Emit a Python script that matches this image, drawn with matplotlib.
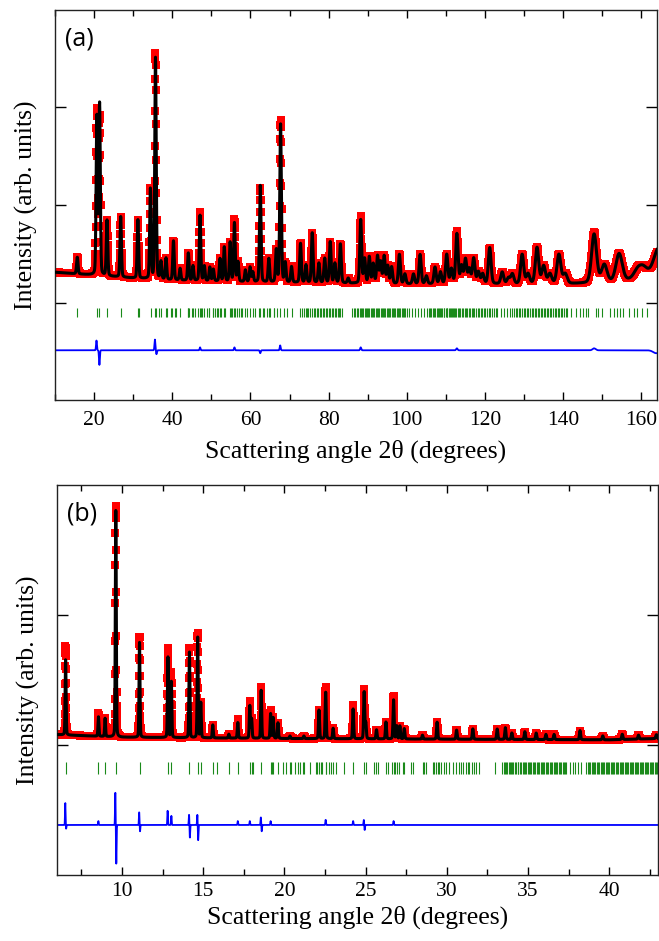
import matplotlib
matplotlib.use('Agg')
import matplotlib.pyplot as plt
from matplotlib.ticker import MultipleLocator
import numpy as np

plt.rcParams['font.family'] = ['Liberation Serif', 'DejaVu Serif']
plt.rcParams['mathtext.fontset'] = 'stix'

# ---------------- panel (a) data ----------------
a_bg_x = [10, 20, 30, 40, 50, 60, 80, 100, 120, 140, 150, 160, 164]
a_bg_y = [1.31, 1.28, 1.25, 1.23, 1.22, 1.21, 1.20, 1.19, 1.19, 1.19, 1.20, 1.24, 1.26]

a_peak_pos = [15.7, 20.7, 21.4, 23.3, 26.8, 31.2, 34.4, 35.7, 37.1, 38.4, 40.3, 42.0, 44.1, 45.3,
              47.1, 48.2, 49.6, 50.5, 52.2, 53.3, 54.8, 55.9, 56.8, 58.7, 59.9, 60.6, 62.5, 64.7,
              66.6, 67.7, 68.9, 70.5, 72.8, 74.2, 75.8, 77.5, 79.0, 80.4, 81.6, 83.0, 85.0, 88.2,
              89.2, 90.4, 91.4, 92.5, 93.3, 94.2, 95.1, 96.1, 98.1, 99.5, 101.7, 103.4, 105.0,
              107.2, 108.6, 110.2, 111.4, 112.8, 114.0, 115.0, 116.0, 117.1, 118.3, 119.4, 121.2,
              124.4, 126.0, 127.0, 129.5, 131.0, 133.3, 135.0, 136.6, 138.9, 140.5, 147.9, 150.5,
              154.3, 159.0, 160.5, 164.5]
a_peak_h = [0.17, 1.62, 1.75, 0.57, 0.62, 0.60, 0.92, 2.27, 0.18, 0.22, 0.40, 0.12, 0.28, 0.15,
            0.67, 0.15, 0.14, 0.12, 0.23, 0.35, 0.40, 0.60, 0.20, 0.12, 0.15, 0.10, 0.99, 0.24,
            0.33, 1.62, 0.20, 0.16, 0.40, 0.18, 0.51, 0.20, 0.25, 0.42, 0.20, 0.40, 0.05, 0.65,
            0.25, 0.27, 0.20, 0.28, 0.22, 0.28, 0.18, 0.17, 0.30, 0.10, 0.10, 0.30, 0.08,
            0.17, 0.12, 0.30, 0.15, 0.51, 0.18, 0.25, 0.15, 0.26, 0.12, 0.10, 0.37,
            0.12, 0.06, 0.10, 0.30, 0.10, 0.37, 0.18, 0.10, 0.30, 0.10, 0.50, 0.18,
            0.28, 0.08, 0.10, 0.30]

# obs - calc features (position, amplitude)
a_res_pos = [20.6, 21.35, 35.55, 35.95, 47.1, 55.9, 62.5, 67.6, 88.2, 112.8, 147.9, 163.8]
a_res_amp = [0.10, -0.15, 0.11, -0.04, 0.03, 0.03, -0.03, 0.05, 0.03, 0.02, 0.02, -0.03]

a_refl = [15.7, 20.7, 21.3, 23.2, 26.8, 31.2, 31.6, 34.5, 35.6, 35.9, 36.7, 37.1, 38.4, 38.6,
          39.7, 39.9, 40.7, 40.9, 42.0, 43.9, 44.1, 44.4, 45.0, 45.4, 45.9, 46.7, 47.1, 47.3,
          47.6, 48.2, 48.8, 49.3, 49.5, 50.3, 50.4, 51.0, 51.4, 51.8, 52.3, 52.5, 53.3, 53.4,
          54.8, 55.1, 55.4, 55.8, 56.1, 56.5, 57.0, 57.6, 57.8, 58.7, 59.1, 59.9, 60.6, 61.2,
          62.1, 62.5, 63.1, 63.4, 64.2, 64.8, 65.1, 65.9, 66.1, 66.8, 67.6, 68.5, 69.3, 70.6,
          72.7, 73.2, 73.6, 74.1, 74.5, 74.8, 75.3, 75.8, 76.2, 76.6, 77.0, 77.3, 77.7, 78.1,
          78.5, 78.9, 79.3, 79.6, 80.0, 80.4, 80.9, 81.2, 81.5, 81.9, 82.3, 82.7, 83.0, 83.4,
          86.0, 86.5, 86.8, 87.3, 87.6, 87.9, 88.2, 88.5, 88.8, 89.2, 89.5, 89.8, 90.1, 90.4,
          90.8, 91.1, 91.4, 91.7, 92.0, 92.3, 92.6, 92.9, 93.3, 93.6, 93.9, 94.2, 94.5, 94.8,
          95.1, 95.5, 95.8, 96.1, 96.4, 96.7, 97.0, 97.4, 97.7, 98.0, 98.3, 98.7, 99.0, 99.3,
          99.6, 100.0, 100.5, 101.3, 102.1, 102.8, 103.6, 104.3,
          105.2, 105.6, 105.9, 106.3, 106.6, 106.9, 107.3, 107.6, 107.9, 108.2, 108.5, 108.8,
          109.1, 109.4, 109.6, 109.9, 110.2, 110.4, 110.7, 111.0, 111.2, 111.5, 111.8, 112.1,
          112.4, 112.7, 113.0, 113.3, 113.7, 114.0, 114.4, 114.8, 115.1, 115.5, 115.9, 116.2,
          116.6, 117.0, 117.3, 117.7, 118.1, 118.5, 118.9, 119.3, 119.7, 120.1, 120.5, 120.9,
          121.4, 121.8, 122.3, 122.7, 123.1, 124.0, 124.9, 125.7,
          126.5, 126.9, 127.3, 127.8, 128.2, 128.6, 129.0, 129.4, 129.9, 130.3, 130.7, 131.1,
          131.5, 131.9, 132.3, 132.7, 133.1, 133.5, 133.9, 134.3, 134.7, 135.0, 135.4, 135.8,
          136.2, 136.6, 137.0, 137.4, 137.8, 138.2, 138.6, 139.0, 139.4, 139.8, 140.2, 140.6,
          141.0, 142.1, 143.2, 144.3, 145.0, 145.9, 146.4, 148.3, 149.0, 150.0, 151.9, 153.0,
          153.8, 154.5, 155.3, 156.8, 158.1, 159.0, 160.2, 161.5, 163.9]

# ---------------- panel (b) data ----------------
b_bg_x = [6, 10, 20, 30, 40, 43]
b_bg_y = [1.08, 1.06, 1.05, 1.045, 1.04, 1.05]

b_peak_pos = [6.53, 8.55, 8.96, 9.62, 11.08, 12.83, 13.04, 14.15, 14.66, 14.85, 15.59, 16.58,
              17.13, 17.87, 17.98, 18.57, 19.15, 19.31, 19.60, 20.34, 21.2, 22.13, 22.54, 23.0,
              24.23, 24.91, 25.01, 25.67, 26.25, 26.72, 26.91, 27.11, 27.38, 28.5, 29.40, 30.6,
              31.6, 33.1, 33.6, 34.0, 34.8, 35.5, 36.1, 36.6, 38.2, 39.6, 40.8, 41.8, 42.9]
b_peak_h = [0.58, 0.15, 0.14, 1.76, 0.73, 0.62, 0.43, 0.66, 0.78, 0.27, 0.10, 0.03,
            0.12, 0.25, 0.15, 0.37, 0.19, 0.16, 0.12, 0.02, 0.02, 0.22, 0.36, 0.08,
            0.23, 0.36, 0.12, 0.07, 0.13, 0.30, 0.10, 0.10, 0.08, 0.03, 0.13, 0.07,
            0.08, 0.08, 0.09, 0.05, 0.06, 0.05, 0.04, 0.04, 0.07, 0.03, 0.04, 0.03, 0.03]

b_res_pos = [6.51, 6.56, 8.55, 9.59, 9.65, 11.06, 11.11, 12.81, 13.04, 14.13, 14.18, 14.64,
             14.69, 17.13, 17.87, 18.55, 18.60, 19.15, 22.54, 24.23, 24.89, 24.94, 26.72]
b_res_amp = [0.17, -0.03, 0.03, 0.25, -0.30, 0.10, -0.05, 0.11, 0.07, 0.08, -0.10, 0.08,
             -0.12, 0.03, 0.03, 0.06, -0.05, 0.03, 0.04, 0.03, 0.04, -0.04, 0.03]

b_refl = [6.53, 8.55, 8.96, 9.62, 11.08, 12.83, 13.04, 14.15, 14.66, 14.85, 15.59, 15.86,
          16.58, 17.13, 17.87, 17.98, 18.06, 18.57, 19.15, 19.25, 19.31, 19.60, 19.93, 20.07,
          20.34, 20.38, 20.65, 20.86, 20.94, 21.17, 21.20, 21.57, 21.93, 22.03, 22.13, 22.23,
          22.34, 22.54, 22.59, 22.75, 22.85, 23.00, 23.16, 23.68, 24.23, 24.91, 25.01, 25.53,
          25.63, 25.77, 26.25, 26.35, 26.62, 26.72, 26.82, 26.91, 27.07, 27.28, 27.38, 27.79,
          27.89, 28.51, 28.61, 28.72, 29.13, 29.23, 29.33, 29.44, 29.54, 29.64, 29.81, 29.95,
          30.16, 30.36, 30.57, 30.77, 30.88, 30.98, 31.19, 31.29, 31.39, 31.56, 31.70, 31.80,
          32.01, 32.98, 33.41, 33.49, 33.55, 33.63, 33.72, 33.80, 33.86, 33.95, 34.03, 34.10,
          34.18, 34.27, 34.35, 34.41, 34.50, 34.58, 34.66, 34.73, 34.81, 34.90, 34.97, 35.05,
          35.14, 35.21, 35.29, 35.38, 35.45, 35.53, 35.62, 35.69, 35.77, 35.86, 35.93, 36.01,
          36.10, 36.17, 36.25, 36.33, 36.41, 36.49, 36.57, 36.65, 36.73, 36.81, 36.89, 36.97,
          37.05, 37.13, 37.21, 37.29, 37.36, 37.56, 37.77, 37.87, 38.08, 38.28, 38.59, 38.68,
          38.76, 38.83, 38.92, 39.00, 39.07, 39.15, 39.24, 39.31, 39.39, 39.47, 39.55, 39.62,
          39.70, 39.78, 39.86, 39.93, 40.01, 40.09, 40.17, 40.24, 40.32, 40.40, 40.48, 40.55,
          40.63, 40.71, 40.79, 40.86, 40.94, 41.02, 41.10, 41.17, 41.25, 41.33, 41.41, 41.48,
          41.56, 41.64, 41.72, 41.79, 41.87, 41.95, 42.03, 42.10, 42.18, 42.26, 42.34, 42.41,
          42.49, 42.57, 42.65, 42.72, 42.80, 42.88, 42.96]


def fwhm_a(t):
    th = np.radians(np.asarray(t) / 2)
    return np.sqrt(0.2 * np.tan(th) ** 2 - 0.1 * np.tan(th) + 0.2)


def fwhm_b(t):
    return 0.065 + 0.0006 * (np.asarray(t) - 6)


def profile(x, pos, hts, fw, eta=0.2):
    y = np.zeros_like(x)
    for p, h in zip(pos, hts):
        w = fw(p)
        u = (x - p) / w
        y += h * ((1 - eta) * np.exp(-4 * np.log(2) * u ** 2) + eta / (1 + 4 * u ** 2))
    return y


def residual(x, pos, amp, fw):
    r = np.zeros_like(x)
    for p, a in zip(pos, amp):
        w = 0.6 * fw(p)
        r += a * np.exp(-4 * np.log(2) * ((x - p) / w) ** 2)
    return r


def draw(ax, x, bgx, bgy, ppos, ph, rpos, ramp, refl, fw, diff0, tick_lo, tick_hi):
    calc = np.interp(x, bgx, bgy) + profile(x, ppos, ph, fw)
    res = residual(x, rpos, ramp, fw)
    obs = calc + res
    ax.plot(x, obs, 's', color='#ff0000', ms=5.5, mew=0, zorder=2)
    ax.plot(x, calc, '-', color='black', lw=2.2, zorder=3)
    ax.vlines(refl, tick_lo, tick_hi, color='#1a8a1a', lw=0.8, zorder=2)
    ax.plot(x, diff0 + res, '-', color='#0000ff', lw=1.3, zorder=2)


fig = plt.figure(figsize=(6.59, 9.41), dpi=100)
ax1 = fig.add_axes([0.0835, 0.5749, 0.9135, 0.4145])
ax2 = fig.add_axes([0.0865, 0.0701, 0.9120, 0.4145])

xa = np.arange(10, 164.01, 0.05)
draw(ax1, xa, a_bg_x, a_bg_y, a_peak_pos, a_peak_h, a_res_pos, a_res_amp, a_refl,
     fwhm_a, 0.51, 0.85, 0.94)
xb = np.arange(6, 43.001, 0.008)
draw(ax2, xb, b_bg_x, b_bg_y, b_peak_pos, b_peak_h, b_res_pos, b_res_amp, b_refl,
     fwhm_b, 0.385, 0.78, 0.87)

ax1.set_xlim(10, 164)
ax1.set_ylim(0, 4)
ax1.xaxis.set_major_locator(MultipleLocator(20))
ax1.xaxis.set_minor_locator(MultipleLocator(10))
ax1.set_yticks([1, 2, 3])

ax2.set_xlim(6, 43)
ax2.set_ylim(0, 3)
ax2.xaxis.set_major_locator(MultipleLocator(5))
ax2.xaxis.set_minor_locator(MultipleLocator(2.5))
ax2.set_yticks([1, 2])

for ax, lab, tpad, lpad in [(ax1, '(a)', 8, 7), (ax2, '(b)', 5, 3)]:
    ax.set_yticklabels([])
    ax.tick_params(axis='x', which='major', direction='in', length=6, width=1,
                   top=True, labelsize=15.5, pad=tpad)
    ax.tick_params(axis='x', which='minor', direction='in', length=4, width=1, top=True)
    ax.tick_params(axis='y', which='major', direction='in', length=8, width=1, right=True)
    for s in ax.spines.values():
        s.set_linewidth(1.0)
        s.set_color('#222222')
    ax.set_xlabel('Scattering angle 2θ (degrees)', fontsize=18.5, labelpad=lpad)
    ax.set_ylabel('Intensity (arb. units)', fontsize=18.5, labelpad=9)
    ax.text(0.017, 0.958, lab, transform=ax.transAxes, ha='left', va='top',
            family='Open Sans', fontsize=18)

fig.savefig('out.png', dpi=100)
